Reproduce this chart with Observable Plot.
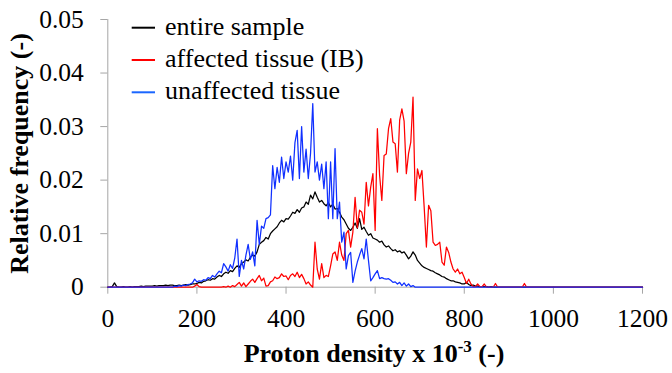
<!DOCTYPE html>
<html>
<head>
<meta charset="utf-8">
<script src="https://cdn.jsdelivr.net/npm/d3@7"></script>
<script src="https://cdn.jsdelivr.net/npm/@observablehq/plot@0.6"></script>
<style>
  html, body { margin: 0; padding: 0; background: #fff; }
  #chart svg { display: block; }
</style>
</head>
<body>
<div id="chart"></div>
<script>
// Histogram bins of proton density (x 10^-3), bin width 5, from 0 to 950; last point at 1200
const binStart = 0;
const binWidth = 5;
const domainEnd = 1200;

const entireSample = [
  0, 0, 0.0001, 0.0008, 0.0001, 0, 0, 0.0001, 0, 0,
  0.0001, 0, 0.0001, 0.0001, 0.0001, 0.0002, 0.0001, 0.0002, 0.0002, 0.0002,
  0.0002, 0.0003, 0.0002, 0.0003, 0.0003, 0.0003, 0.0004, 0.0003, 0.0004, 0.0004,
  0.0003, 0.0003, 0.0004, 0.0003, 0.0004, 0.0005, 0.0004, 0.0005, 0.0006, 0.0006,
  0.0007, 0.0009, 0.0008, 0.0011, 0.0012, 0.0014, 0.0013, 0.0016, 0.0015, 0.0019,
  0.0022, 0.0020, 0.0025, 0.0028, 0.0026, 0.0031, 0.0029, 0.0035, 0.0040, 0.0037,
  0.0044, 0.0047, 0.0051, 0.0049, 0.0056, 0.0060, 0.0058, 0.0066, 0.0080, 0.0084,
  0.0087, 0.0093, 0.0090, 0.0100, 0.0105, 0.0109, 0.0113, 0.0120, 0.0125, 0.0122,
  0.0128, 0.0127, 0.0133, 0.0140, 0.0138, 0.0145, 0.0140, 0.0148, 0.0150, 0.0159,
  0.0155, 0.0172, 0.0165, 0.0178, 0.0168, 0.0159, 0.0162, 0.0156, 0.0152, 0.0158,
  0.0150, 0.0155, 0.0146, 0.0147, 0.0140, 0.0131, 0.0126, 0.0118, 0.0110, 0.0106,
  0.0112, 0.0120, 0.0110, 0.0128, 0.0108, 0.0112, 0.0104, 0.0097, 0.0100, 0.0092,
  0.0090, 0.0088, 0.0084, 0.0086, 0.0079, 0.0075, 0.0077, 0.0072, 0.0068, 0.0070,
  0.0066, 0.0068, 0.0064, 0.0066, 0.0060, 0.0053, 0.0058, 0.0066, 0.0060, 0.0050,
  0.0045, 0.0040, 0.0037, 0.0035, 0.0033, 0.0031, 0.0030, 0.0027, 0.0025, 0.0023,
  0.0020, 0.0019, 0.0016, 0.0014, 0.0012, 0.0012, 0.0010, 0.0009, 0.0008, 0.0006,
  0.0006, 0.0009, 0.0005, 0.0003, 0.0004, 0.0002, 0.0002, 0.0001, 0.0001, 0.0001,
  0.0001, 0, 0.0001, 0, 0, 0, 0, 0, 0, 0,
  0, 0, 0, 0, 0, 0, 0, 0, 0, 0,
  0
];

const affectedTissue = [
  0, 0, 0, 0, 0, 0, 0, 0, 0, 0,
  0, 0, 0, 0, 0, 0, 0, 0, 0, 0,
  0, 0, 0, 0, 0, 0, 0, 0, 0, 0,
  0, 0, 0, 0, 0, 0, 0, 0, 0, 0.0002,
  0.0005, 0.0001, 0, 0, 0, 0, 0, 0, 0, 0,
  0, 0, 0.0001, 0, 0.0002, 0, 0.0003, 0.0001, 0.0005, 0.0009,
  0.0002, 0.0008, 0.0001, 0.0006, 0.0011, 0.0015, 0.0009, 0.0016, 0.0022, 0.0012,
  0.0017, 0.0002, 0.0003, 0.0010, 0.0012, 0.0019, 0.0016, 0.0018, 0.0025, 0.0020,
  0.0021, 0.0014, 0.0022, 0.0025, 0.0020, 0.0028, 0.0018, 0.0024, 0.0016, 0.0006,
  0.0010, 0.0004, 0, 0.0084, 0.0034, 0.0015, 0.0044, 0.0018, 0.0022, 0.0020,
  0.0040, 0.0062, 0.0066, 0.0050, 0.0084, 0.0060, 0.0050, 0.0100, 0.0106, 0.0075,
  0.0103, 0.0168, 0.0111, 0.0144, 0.0140, 0.0118, 0.0196, 0.0152, 0.0187, 0.0212,
  0.0106, 0.0296, 0.0209, 0.0162, 0.0246, 0.0249, 0.0296, 0.0315, 0.0271, 0.0268,
  0.0215, 0.0312, 0.0333, 0.0310, 0.0212, 0.0250, 0.0271, 0.0355, 0.0162, 0.0221,
  0.0203, 0.0218, 0.0150, 0.0075, 0.0153, 0.0143, 0.0084, 0.0078, 0.0080, 0.0084,
  0.0047, 0.0041, 0.0075, 0.0065, 0.0047, 0.0034, 0.0028, 0.0034, 0.0025, 0.0028,
  0.0018, 0.0007, 0.0015, 0.0006, 0.0001, 0.0001, 0.0006, 0.0001, 0.0001, 0.0006,
  0, 0, 0, 0, 0.0007, 0, 0, 0, 0, 0,
  0, 0, 0, 0, 0, 0, 0, 0.0007, 0, 0,
  0
];

const unaffectedTissue = [
  0, 0, 0, 0, 0, 0, 0, 0, 0, 0,
  0, 0, 0, 0, 0, 0, 0, 0, 0, 0,
  0, 0, 0, 0, 0, 0, 0, 0, 0, 0,
  0.0002, 0.0001, 0.0003, 0.0002, 0.0004, 0.0003, 0.0005, 0.0006, 0.0008, 0.0015,
  0.0010, 0.0012, 0.0011, 0.0014, 0.0013, 0.0018, 0.0016, 0.0022, 0.0019, 0.0025,
  0.0030, 0.0027, 0.0044, 0.0038, 0.0030, 0.0042, 0.0035, 0.0055, 0.0090, 0.0020,
  0.0050, 0.0034, 0.0060, 0.0080, 0.0052, 0.0066, 0.0040, 0.0125, 0.0080, 0.0114,
  0.0110, 0.0128, 0.0130, 0.0135, 0.0227, 0.0184, 0.0224, 0.0196, 0.0243, 0.0203,
  0.0234, 0.0215, 0.0245, 0.0200, 0.0270, 0.0293, 0.0203, 0.0300, 0.0215, 0.0258,
  0.0203, 0.0250, 0.0343, 0.0215, 0.0234, 0.0200, 0.0230, 0.0184, 0.0234, 0.0128,
  0.0234, 0.0128, 0.0259, 0.0128, 0.0159, 0.0084, 0.0103, 0.0034, 0.0059, 0.0065,
  0.0009, 0.0030, 0.0047, 0.0060, 0.0072, 0.0053, 0.0090, 0.0050, 0.0012, 0.0018,
  0.0025, 0.0031, 0.0016, 0.0018, 0.0016, 0.0015, 0.0016, 0.0013, 0.0009, 0.0010,
  0.0006, 0.0009, 0.0003, 0.0008, 0.0002, 0.0006, 0.0001, 0.0003, 0, 0,
  0, 0, 0, 0, 0, 0, 0, 0, 0, 0,
  0, 0, 0, 0, 0, 0, 0, 0, 0, 0,
  0, 0, 0, 0, 0, 0, 0, 0, 0, 0,
  0, 0, 0, 0, 0, 0, 0, 0, 0, 0,
  0, 0, 0, 0, 0, 0, 0, 0, 0, 0,
  0
];

const seriesNames = ["entire sample", "affected tissue (IB)", "unaffected tissue"];
const seriesColors = ["#000000", "#ff0000", "#1030ff"];
const legendColors = ["#000000", "#ff0000", "#1a66ff"];
const xTicks = [0, 200, 400, 600, 800, 1000, 1200];
const yTicks = [0, 0.01, 0.02, 0.03, 0.04, 0.05];
const yTickLabels = ["0", "0.01", "0.02", "0.03", "0.04", "0.05"];
const xTitle = "Proton density x 10";
const xTitleSup = "-3";
const xTitleEnd = " (-)";
const yTitle = "Relative frequency (-)";

const seriesValues = [entireSample, affectedTissue, unaffectedTissue];
const rows = seriesValues.map((vals, si) => {
  const r = vals.map((v, i) => ({x: binStart + i * binWidth, y: v, s: seriesNames[si]}));
  r.push({x: domainEnd, y: 0, s: seriesNames[si]});
  return r;
});

const FONT = "Liberation Serif";
const grey = "#a6a6a6";

const chart = Plot.plot({
  width: 672,
  height: 373,
  marginLeft: 107.3,
  marginRight: 30,
  marginTop: 19,
  marginBottom: 86.3,
  style: {fontFamily: FONT, fontSize: "25.5px"},
  x: {domain: [0, 1200]},
  y: {domain: [0, 0.05]},
  marks: [
    Plot.ruleY([0], {stroke: grey, strokeWidth: 1}),
    Plot.ruleX([0], {stroke: grey, strokeWidth: 1}),
    Plot.axisX({ticks: xTicks, tickSize: 7, tickPadding: 15, stroke: grey, fill: "#000", label: null, tickFormat: d => String(d)}),
    Plot.axisY({ticks: yTicks, tickSize: 7, tickPadding: 17, stroke: grey, fill: "#000", label: null,
      tickFormat: d => yTickLabels[yTicks.indexOf(d)]}),
    ...rows.map((r, si) => Plot.line(r, {x: "x", y: "y", stroke: seriesColors[si], strokeWidth: 1.25}))
  ]
});

document.getElementById("chart").appendChild(chart);

const svg = d3.select(chart);

// Axis titles
const xt = svg.append("text")
  .attr("x", 374).attr("y", 361.5)
  .attr("text-anchor", "middle")
  .attr("font-family", FONT).attr("font-weight", "bold").attr("font-size", 26)
  .attr("fill", "#000");
xt.append("tspan").text(xTitle);
xt.append("tspan").text(xTitleSup).attr("font-size", 17).attr("dy", -10);
xt.append("tspan").text(xTitleEnd).attr("dy", 10);

svg.append("text")
  .attr("transform", "translate(28,153.5) rotate(-90)")
  .attr("text-anchor", "middle")
  .attr("font-family", FONT).attr("font-weight", "bold").attr("font-size", 26)
  .attr("fill", "#000")
  .text(yTitle);

// Legend
const lg = svg.append("g").attr("text-anchor", "start");
seriesNames.forEach((name, i) => {
  const y = 27.7 + i * 32.3;
  lg.append("line").attr("x1", 131.7).attr("x2", 155).attr("y1", y).attr("y2", y)
    .attr("stroke", legendColors[i]).attr("stroke-width", 2);
  lg.append("text").attr("x", 165).attr("y", y + 7)
    .attr("font-family", FONT).attr("font-size", 26).attr("fill", "#000")
    .text(name);
});
</script>
</body>
</html>
